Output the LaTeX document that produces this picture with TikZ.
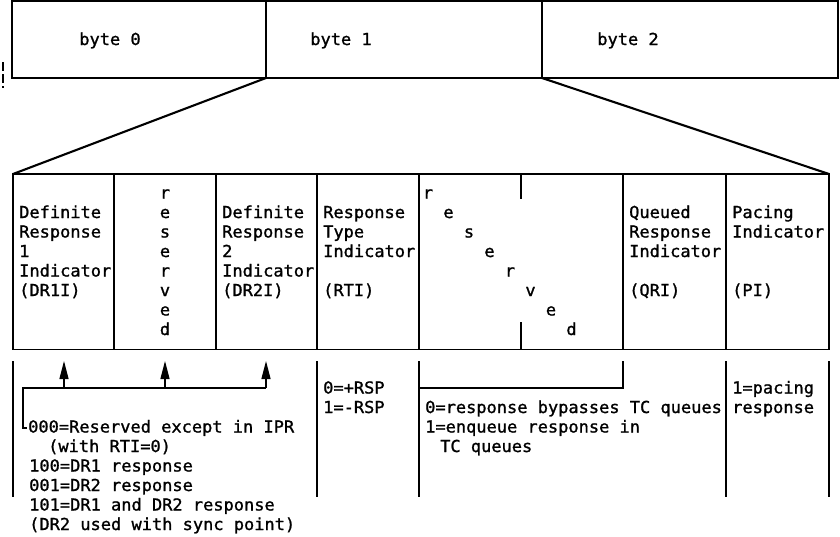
\documentclass[tikz,border=0pt]{standalone}
\usepackage{fontspec}
\newfontfamily\ibmfont[FakeStretch=1.03,FakeBold=1.2]{DejaVu Sans Mono}
\usetikzlibrary{arrows.meta}

\begin{document}
\begin{tikzpicture}[x=1pt,y=-1pt,
  frame/.style={line width=1.3pt},
  fan/.style={line width=2.1pt},
  txt/.style={inner sep=0pt, anchor=base west, font=\ibmfont\fontsize{16.5}{19.5}\selectfont},
  ctxt/.style={inner sep=0pt, anchor=base, font=\ibmfont\fontsize{16.5}{19.5}\selectfont},
  uparrow/.style={line width=1.3pt, -{Triangle[length=18pt,width=9pt]}}
]
\useasboundingbox (0,0) rectangle (840,536);

% ---- the three bytes of the header ----
\draw[frame] (12,1) rectangle (838,78);
\draw[frame] (266,1) -- (266,78) (542,1) -- (542,78);
\draw[frame, dash pattern=on 9pt off 3pt] (3,62) -- (3,88);
\node[ctxt] (byte0) at (110,45) {byte 0};
\node[ctxt] (byte1) at (341,45) {byte 1};
\node[ctxt] (byte2) at (628,45) {byte 2};

% ---- expansion of byte 1 ----
\coordinate (b1l) at (266,78);
\coordinate (b1r) at (542,78);
\coordinate (bitl) at (13,174);
\coordinate (bitr) at (829,174);
\draw[fan] (b1l) -- (bitl);
\draw[fan] (b1r) -- (bitr);

% ---- bit fields ----
\draw[frame] (bitl) rectangle (829,349.5);
\foreach \x in {114,216,317,419,623,726}
  \draw[frame] (\x,174) -- (\x,349.5);
\draw[frame] (521,174) -- (521,199) (521,322) -- (521,349.5);

% rows: baseline = 198.5 + 19.5*k
\foreach \t [count=\i] in {Definite,Response,1,Indicator,{(DR1I)}}
  \node[txt] (dr1-\i) at (19,{198.5+19.5*\i}) {\t};
\foreach \t [count=\i from 0] in {r,e,s,e,r,v,e,d}
  \node[ctxt] (rsva-\i) at (165,{198.5+19.5*\i}) {\t};
\foreach \t [count=\i] in {Definite,Response,2,Indicator,{(DR2I)}}
  \node[txt] (dr2-\i) at (222,{198.5+19.5*\i}) {\t};
\foreach \t [count=\i] in {Response,Type,Indicator}
  \node[txt] (rti-\i) at (323,{198.5+19.5*\i}) {\t};
\node[txt] (rti-5) at (323,{198.5+19.5*5}) {(RTI)};
\foreach \t [count=\i from 0] in {r,e,s,e,r,v,e,d}
  \node[ctxt] (rsvb-\i) at ({428+20.5*\i},{198.5+19.5*\i}) {\t};
\foreach \t [count=\i] in {Queued,Response,Indicator}
  \node[txt] (qri-\i) at (629,{198.5+19.5*\i}) {\t};
\node[txt] (qri-5) at (629,{198.5+19.5*5}) {(QRI)};
\foreach \t [count=\i] in {Pacing,Indicator}
  \node[txt] (pi-\i) at (732,{198.5+19.5*\i}) {\t};
\node[txt] (pi-5) at (732,{198.5+19.5*5}) {(PI)};

% ---- value descriptions ----
\foreach \x in {13,317,419,726,829}
  \draw[frame] (\x,361) -- (\x,497);
\coordinate (qtop) at (623,361);
\coordinate (qcorner) at (623,388);
\coordinate (qleft) at (419,388);
\draw[frame] (qleft) -- (qcorner) -- (qtop);

\coordinate (t1) at (64,361);
\coordinate (t2) at (165,361);
\coordinate (t3) at (266,361);
\coordinate (s1) at (64,388);
\coordinate (s2) at (165,388);
\coordinate (s3) at (266,388);
\coordinate (hook) at (23,388);
\coordinate (hookend) at (23,428);
\coordinate (hooktip) at (27,428);
\draw[uparrow] (s1) -- (t1);
\draw[uparrow] (s2) -- (t2);
\draw[uparrow] (s3) -- (t3);
\draw[frame] (s3) -- (hook) -- (hookend) -- (hooktip);

\node[txt] (v1) at (28,{198.5+19.5*12}) {000=Reserved except in IPR};
\node[txt] (v2) at (48,{198.5+19.5*13}) {(with RTI=0)};
\node[txt] (v3) at (29,{198.5+19.5*14}) {100=DR1 response};
\node[txt] (v4) at (29,{198.5+19.5*15}) {001=DR2 response};
\node[txt] (v5) at (29,{198.5+19.5*16}) {101=DR1 and DR2 response};
\node[txt] (v6) at (29,{198.5+19.5*17}) {(DR2 used with sync point)};

\node[txt] (r1) at (323,{198.5+19.5*10}) {0=+RSP};
\node[txt] (r2) at (323,{198.5+19.5*11}) {1=-RSP};

\node[txt] (q1) at (425,{198.5+19.5*11}) {0=response bypasses TC queues};
\node[txt] (q2) at (425,{198.5+19.5*12}) {1=enqueue response in};
\node[txt] (q3) at (440,{198.5+19.5*13}) {TC queues};

\node[txt] (p1) at (732,{198.5+19.5*10}) {1=pacing};
\node[txt] (p2) at (732,{198.5+19.5*11}) {response};
\end{tikzpicture}
\end{document}
